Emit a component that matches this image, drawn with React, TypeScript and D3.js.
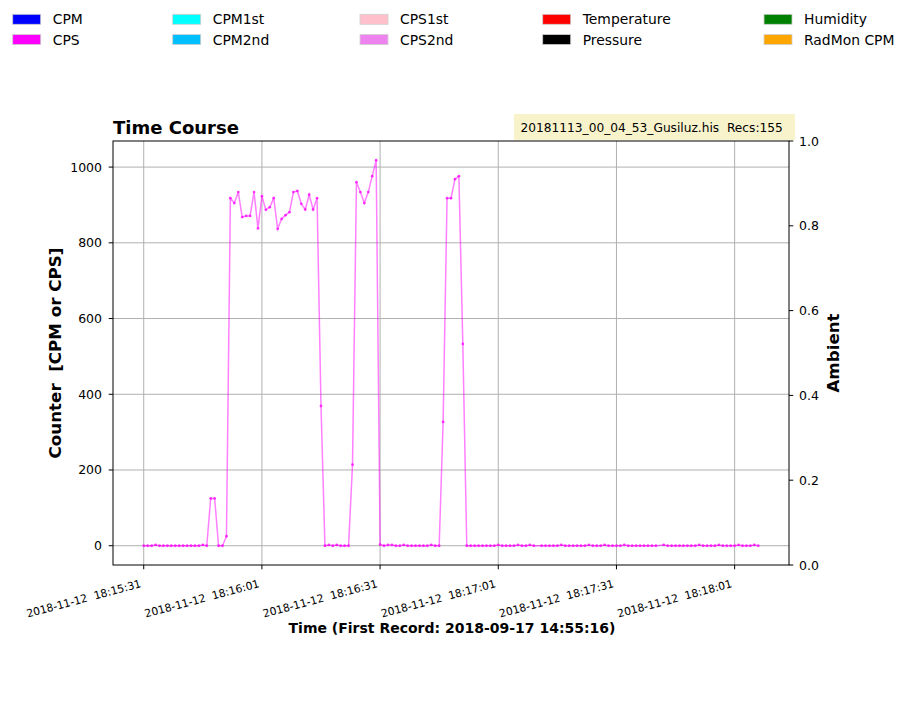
import React from "react";
import * as d3 from "d3";

const LEGEND_LABELS = ["CPM", "CPS", "CPM1st", "CPM2nd", "CPS1st", "CPS2nd", "Temperature", "Pressure", "Humidity", "RadMon CPM"];
const LEGEND_COLORS = ["#0000ff", "#ff00ff", "#00ffff", "#00bfff", "#ffc0cb", "#ee82ee", "#ff0000", "#000000", "#008000", "#ffa500"];

// CPS values, one per record (155 records)
const CPS_VALUES = [
  0, 0, 0, 2, 0, 0, 0, 0, 0, 0, 0, 0, 0, 0, 0, 2, 0,
  125, 125, 0, 0, 25,
  918, 905, 934, 868, 871, 871, 934, 838, 923, 887, 894, 918, 837, 863, 873, 881, 934, 937, 903, 888, 927, 888, 918, 369,
  0, 2, 0, 2, 0, 0, 0,
  214,
  960, 934, 905, 934, 976, 1018,
  3, 0, 2, 2, 0, 0, 2, 0, 0, 0, 0, 0, 0, 2, 0, 0,
  327, 918, 918, 968, 976, 533,
  0, 0, 0, 0, 0, 0, 0, 0, 2, 0, 0, 0, 0, 2, 0, 0, 2, 0, 0, 0,
  0, 0, 0, 2, 0, 0, 0, 0, 0, 0, 2, 0, 0, 0, 2, 0, 0, 0, 0, 2,
  0, 0, 0, 0, 0, 0, 0, 0, 2, 0, 0, 0, 0, 0, 0, 0, 0, 2, 0, 0,
  0, 0, 2, 0, 0, 0, 0, 2, 0, 0, 0, 2, 0,
];
// record indices after which one second is missing
const GAP_AFTER = [99, 129];

const START = new Date(2018, 10, 12, 18, 15, 31);
const X_TICK_OFFSETS = [0, 30, 60, 90, 120, 150];
const Y_TICKS = [0, 200, 400, 600, 800, 1000];
const Y2_TICKS = [0, 0.2, 0.4, 0.6, 0.8, 1.0];

const TITLE = "Time Course";
const FILE_INFO = "20181113_00_04_53_Gusiluz.his  Recs:155";
const X_LABEL = "Time (First Record: 2018-09-17 14:55:16)";
const Y_LABEL = "Counter  [CPM or CPS]";
const Y2_LABEL = "Ambient";

const FONT = "DejaVu Sans, sans-serif";

export default function App() {
  const W = 907, H = 706;
  const L = 113, R = 789, T = 141, B = 565;

  const times: Date[] = [];
  let sec = 0;
  CPS_VALUES.forEach((_, i) => {
    times.push(new Date(START.getTime() + sec * 1000));
    sec += GAP_AFTER.includes(i) ? 2 : 1;
  });
  const pts = CPS_VALUES.map((v, i) => ({ t: times[i], v }));

  const tMin = times[0].getTime();
  const tMax = times[times.length - 1].getTime();
  const tPad = (tMax - tMin) * 0.05;
  const x = d3.scaleTime().domain([new Date(tMin - tPad), new Date(tMax + tPad)]).range([L, R]);
  const vMax = d3.max(CPS_VALUES) as number;
  const vPad = vMax * 0.05;
  const y = d3.scaleLinear().domain([-vPad, vMax + vPad]).range([B, T]);
  const y2 = d3.scaleLinear().domain([0, 1]).range([B, T]);

  const line = d3.line<{ t: Date; v: number }>().x(d => x(d.t)).y(d => y(d.v));
  const fmt = d3.timeFormat("%Y-%m-%d  %H:%M:%S");
  const xTicks = X_TICK_OFFSETS.map(s => new Date(START.getTime() + s * 1000));

  const legendCols = [12.7, 172.7, 360, 542.7, 764];
  const legendRows = [14.3, 34.6];
  const pre = { whiteSpace: "pre" as const };

  return (
    <svg width={W} height={H} style={{ position: "absolute", left: 0, top: 0, background: "#fff" }} fontFamily={FONT}>
      <rect x={0} y={0} width={W} height={H} fill="#fff" />
      {/* legend */}
      {LEGEND_LABELS.map((lab, i) => {
        const col = Math.floor(i / 2), row = i % 2;
        const lx = legendCols[col], ly = legendRows[row];
        return (
          <g key={lab}>
            <rect x={lx} y={ly} width={28} height={10} fill={LEGEND_COLORS[i]} stroke="#cfcfcf" strokeWidth={0.8} />
            <text x={lx + 40} y={ly + 10} fontSize={13.9} fill="#000">{lab}</text>
          </g>
        );
      })}

      {/* title */}
      <text x={L} y={134} fontSize={18} fontWeight="bold">{TITLE}</text>
      <rect x={514} y={114} width={281} height={26} fill="#f9f3cc" />
      <text x={520.5} y={131.5} fontSize={12.2} style={pre}>{FILE_INFO}</text>

      {/* grid */}
      {xTicks.map((t, i) => (
        <line key={"gx" + i} x1={x(t)} x2={x(t)} y1={T} y2={B} stroke="#b0b0b0" strokeWidth={1} />
      ))}
      {Y_TICKS.map(v => (
        <line key={"gy" + v} x1={L} x2={R} y1={y(v)} y2={y(v)} stroke="#b0b0b0" strokeWidth={1} />
      ))}

      {/* data */}
      <path d={line(pts) || ""} fill="none" stroke="#ff00ff" strokeOpacity={0.5} strokeWidth={1.5} />
      {pts.map((p, i) => (
        <circle key={i} cx={x(p.t)} cy={y(p.v)} r={1.4} fill="#ff00ff" fillOpacity={0.75} />
      ))}

      {/* frame */}
      <rect x={L} y={T} width={R - L} height={B - T} fill="none" stroke="#000" strokeWidth={1} />

      {/* left axis */}
      {Y_TICKS.map(v => (
        <g key={"yt" + v}>
          <line x1={L - 4.3} x2={L} y1={y(v)} y2={y(v)} stroke="#000" />
          <text x={L - 11} y={y(v) + 4.5} fontSize={12.5} textAnchor="end">{v}</text>
        </g>
      ))}
      {/* right axis */}
      {Y2_TICKS.map(v => (
        <g key={"y2t" + v}>
          <line x1={R} x2={R + 4.3} y1={y2(v)} y2={y2(v)} stroke="#000" />
          <text x={R + 10} y={y2(v) + 4.5} fontSize={12.5}>{v.toFixed(1)}</text>
        </g>
      ))}
      {/* x axis */}
      {xTicks.map((t, i) => (
        <g key={"xt" + i}>
          <line x1={x(t)} x2={x(t)} y1={B} y2={B + 4.3} stroke="#000" />
          <text transform={`translate(${x(t) - 2},587) rotate(-15)`} fontSize={10.8} textAnchor="end" style={pre}>{fmt(t)}</text>
        </g>
      ))}

      {/* axis labels */}
      <text x={(L + R) / 2 + 1} y={633} fontSize={14} fontWeight="bold" textAnchor="middle">{X_LABEL}</text>
      <text transform={`translate(61,${(T + B) / 2}) rotate(-90)`} fontSize={16.7} fontWeight="bold" textAnchor="middle" style={pre}>{Y_LABEL}</text>
      <text transform={`translate(839,${(T + B) / 2}) rotate(-90)`} fontSize={16.7} fontWeight="bold" textAnchor="middle">{Y2_LABEL}</text>
    </svg>
  );
}
